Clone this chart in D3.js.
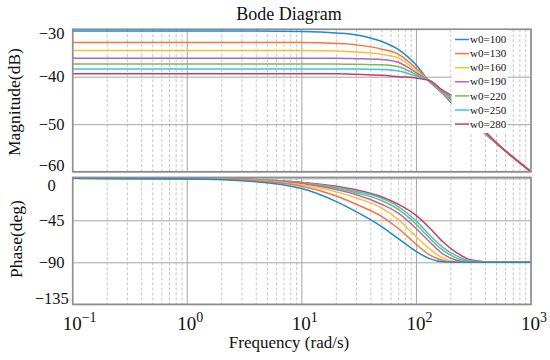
<!DOCTYPE html>
<html>
<head>
<meta charset="utf-8">
<script src="https://cdn.jsdelivr.net/npm/d3@7"></script>
<style>
  body { margin: 0; background: #fff; }
  text { font-family: "Liberation Serif", "DejaVu Serif", serif; fill: #111; }
</style>
</head>
<body>
<svg width="550" height="360"></svg>
<script>
var freq = [0.1, 1, 3, 10, 20, 30, 50, 70, 100, 130, 170, 220, 300, 500, 1000];
var w0Labels = ["w0=100", "w0=130", "w0=160", "w0=190", "w0=220", "w0=250", "w0=280"];
var colors = ["#1a8bd6", "#f7743c", "#fbbf33", "#b066c0", "#7dbd4a", "#33c5f2", "#d6395a"];

// magnitude (dB), one array per w0
var mag100 = [-30.4, -30.4, -30.4, -30.5, -30.8, -31.2, -32.6, -34.3, -37.6, -41.0, -43.6, -46.5, -49.4, -54.1, -60.0];
var mag130 = [-32.8, -32.8, -32.8, -32.8, -33.0, -33.3, -34.2, -35.3, -38.3, -40.95, -43.4, -46.2, -49.2, -54.1, -60.0];
var mag160 = [-34.5, -34.5, -34.5, -34.5, -34.6, -34.8, -35.3, -36.1, -38.8, -40.9, -43.3, -46.0, -49.1, -54.0, -60.0];
var mag190 = [-36.1, -36.1, -36.1, -36.1, -36.1, -36.2, -36.4, -37.0, -39.2, -40.9, -43.2, -45.7, -48.9, -54.0, -60.0];
var mag220 = [-37.3, -37.3, -37.3, -37.3, -37.3, -37.4, -37.5, -37.9, -39.6, -40.85, -43.1, -45.4, -48.8, -54.0, -60.0];
var mag250 = [-38.4, -38.4, -38.4, -38.4, -38.4, -38.4, -38.5, -38.8, -39.9, -40.8, -43.0, -45.0, -48.6, -53.9, -60.0];
var mag280 = [-39.4, -39.4, -39.4, -39.4, -39.4, -39.5, -39.7, -40.0, -40.3, -40.8, -42.9, -44.5, -48.4, -53.9, -60.0];

// phase (deg), one array per w0
var ph100 = [0, -0.6, -2.5, -11, -25, -36, -52, -65, -78.5, -86, -89.5, -90, -90, -90, -90];
var ph130 = [0, -0.4, -1.8, -8.5, -19, -28, -41, -54, -71, -82, -88, -90, -90, -90, -90];
var ph160 = [0, -0.3, -1.4, -7, -14.5, -21, -32, -44.5, -63, -75.5, -85.5, -89.3, -90, -90, -90];
var ph190 = [0, -0.2, -1.2, -5.5, -12, -17.5, -28, -37.5, -54, -68, -81, -87.5, -90, -90, -90];
var ph220 = [0, -0.2, -1, -5, -10.5, -15.5, -24, -33.5, -49.5, -64, -77, -85, -89.3, -90, -90];
var ph250 = [0, -0.1, -0.9, -4.6, -9.5, -14, -21.5, -30.5, -46, -60.5, -74, -82.5, -88.5, -90, -90];
var ph280 = [0, -0.1, -0.8, -4.3, -8.5, -12.5, -20, -28, -40, -53, -68, -79, -87.5, -90, -90];

var magTicks = [-30, -40, -50, -60];
var phaseTicks = [0, -45, -90, -135];
var decades = [0.1, 1, 10, 100, 1000];
var decadeExp = ["\u22121", "0", "1", "2", "3"];

var magSeries = [mag100, mag130, mag160, mag190, mag220, mag250, mag280];
var phSeries = [ph100, ph130, ph160, ph190, ph220, ph250, ph280];

var svg = d3.select("svg");
var left = 72.7, right = 531;

var x = d3.scaleLog().domain([0.1, 1000]).range([left, right]);
var yMag = d3.scaleLinear().domain([-60, -30]).range([171.7, 29.2]);
var yPh = d3.scaleLinear().domain([-135, 1]).range([304.3, 177.4]);

// minor grid positions 2..9 in every decade
var minor = [];
decades.slice(0, 4).forEach(function(d) {
  for (var k = 2; k <= 9; k++) minor.push(d * k);
});

function panel(y, ticks, clipId) {
  var top = y.range()[1], bottom = y.range()[0];
  var g = svg.append("g");

  g.append("rect")
      .attr("x", left).attr("y", top)
      .attr("width", right - left).attr("height", bottom - top)
      .attr("fill", "#fff");

  g.append("g").selectAll("line")
    .data(minor)
    .enter().append("line")
      .attr("x1", function(d) { return x(d); })
      .attr("x2", function(d) { return x(d); })
      .attr("y1", top).attr("y2", bottom)
      .attr("stroke", "#c4c4c4")
      .attr("stroke-dasharray", "3,2");

  g.append("g").selectAll("line")
    .data(decades)
    .enter().append("line")
      .attr("x1", function(d) { return x(d); })
      .attr("x2", function(d) { return x(d); })
      .attr("y1", top).attr("y2", bottom)
      .attr("stroke", "#a6a6a6");

  g.append("g")
      .attr("transform", "translate(" + left + ",0)")
      .call(d3.axisLeft(y).tickValues(ticks).tickSize(-(right - left)).tickFormat(""))
      .call(function(a) {
        a.select(".domain").remove();
        a.selectAll("line").attr("stroke", "#a6a6a6");
      });

  svg.append("clipPath").attr("id", clipId)
    .append("rect")
      .attr("x", left).attr("y", top)
      .attr("width", right - left).attr("height", bottom - top);

  return g;
}

function frame(y) {
  var top = y.range()[1], bottom = y.range()[0];
  svg.append("rect")
      .attr("x", left).attr("y", top)
      .attr("width", right - left).attr("height", bottom - top)
      .attr("fill", "none")
      .attr("stroke", "#8e8e8e")
      .attr("stroke-width", 1.6);
}

function yLabels(y, ticks, fmt, shiftTop, shiftBottom) {
  svg.append("g")
      .attr("transform", "translate(" + left + ",0)")
      .call(d3.axisLeft(y).tickValues(ticks).tickSize(0).tickFormat(fmt))
      .call(function(a) {
        a.select(".domain").remove();
        a.attr("font-family", null);
        a.selectAll("text")
            .attr("x", -21)
            .attr("text-anchor", "middle")
            .style("font-family", "'Liberation Serif', serif")
            .style("font-size", "16.5px")
            .attr("fill", "#111")
            .attr("dy", function(d, i) {
              var s = 0;
              if (i === 0) s = shiftTop;
              if (i === ticks.length - 1) s = shiftBottom;
              return (0.32 * 16.5 + s) + "px";
            });
      });
}

function minusFmt(d) { return d < 0 ? "\u2212" + Math.abs(d) : String(d); }

// ---- magnitude panel
panel(yMag, magTicks, "clipMag");
var magLine = d3.line()
    .x(function(d, i) { return x(freq[i]); })
    .y(function(d) { return yMag(d); })
    .curve(d3.curveMonotoneX);

svg.append("g").attr("clip-path", "url(#clipMag)")
  .selectAll("path")
  .data(magSeries)
  .enter().append("path")
    .attr("d", magLine)
    .attr("fill", "none")
    .attr("stroke", function(d, i) { return colors[i]; })
    .attr("stroke-width", 1.5);

// ---- phase panel
panel(yPh, phaseTicks, "clipPh");
var phLine = d3.line()
    .x(function(d, i) { return x(freq[i]); })
    .y(function(d) { return yPh(d); })
    .curve(d3.curveMonotoneX);

svg.append("g").attr("clip-path", "url(#clipPh)")
  .selectAll("path")
  .data(phSeries.slice().reverse())
  .enter().append("path")
    .attr("d", phLine)
    .attr("fill", "none")
    .attr("stroke", function(d, i) { return colors[colors.length - 1 - i]; })
    .attr("stroke-width", 1.5);

// ---- legend (white box, no border)
var legend = svg.append("g");
legend.append("rect")
    .attr("x", 451.5).attr("y", 30)
    .attr("width", 56).attr("height", 103)
    .attr("fill", "#fff");

var item = legend.selectAll(".item")
  .data(w0Labels)
  .enter().append("g")
    .attr("class", "item")
    .attr("transform", function(d, i) { return "translate(455," + (39.5 + i * 14.1) + ")"; });

item.append("line")
    .attr("x1", 0).attr("x2", 14)
    .attr("stroke", function(d, i) { return colors[i]; })
    .attr("stroke-width", 1.5);

item.append("text")
    .attr("x", 15)
    .attr("dy", "0.33em")
    .style("font-size", "11px")
    .text(function(d) { return d; });

frame(yMag);
frame(yPh);

yLabels(yMag, magTicks, minusFmt, 4, -6.2);
yLabels(yPh, phaseTicks, minusFmt, 6.7, -6.5);

// ---- x tick labels 10^n
var xAxis = svg.append("g")
    .attr("transform", "translate(0," + 304.3 + ")")
    .call(d3.axisBottom(x).tickValues(decades).tickSize(0).tickFormat(""));
xAxis.select(".domain").remove();
xAxis.attr("font-family", null);

xAxis.selectAll(".tick").each(function(d, i) {
  var t = d3.select(this).append("text")
      .attr("y", 25.5)
      .attr("text-anchor", "start")
      .style("font-size", "19px");
  var base = t.append("tspan").text("10");
  t.append("tspan")
      .attr("dy", -8)
      .style("font-size", "14px")
      .text(decadeExp[i]);
  var bw = base.node().getComputedTextLength();
  t.attr("x", -bw / 2 - 1);
});

// ---- titles
svg.append("text")
    .attr("x", 289).attr("y", 20)
    .attr("text-anchor", "middle")
    .style("font-size", "18px")
    .text("Bode Diagram");

svg.append("text")
    .attr("x", 289).attr("y", 348)
    .attr("text-anchor", "middle")
    .style("font-size", "17px")
    .text("Frequency (rad/s)");

svg.append("text")
    .attr("transform", "translate(20,102) rotate(-90)")
    .attr("text-anchor", "middle")
    .style("font-size", "17.5px")
    .text("Magnitude(dB)");

svg.append("text")
    .attr("transform", "translate(22,239) rotate(-90)")
    .attr("text-anchor", "middle")
    .style("font-size", "17.5px")
    .text("Phase(deg)");
</script>
</body>
</html>
